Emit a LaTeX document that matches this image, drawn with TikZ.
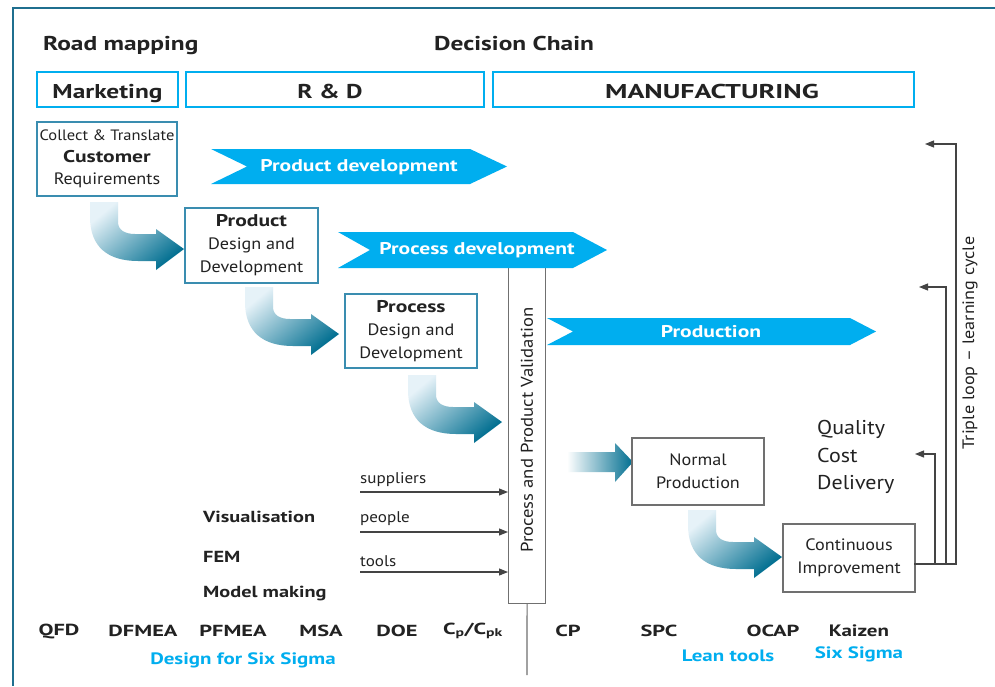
\documentclass[tikz,border=0pt]{standalone}
\usepackage{fontspec}
\setmainfont{PT Sans}[UprightFeatures={FakeStretch=1.1}, BoldFeatures={FakeStretch=1.27}]
\newfontfamily\capsfam{PT Sans}[UprightFeatures={FakeStretch=1.4}, BoldFeatures={FakeStretch=1.4}]
\usetikzlibrary{arrows.meta}
\definecolor{cyanb}{HTML}{00AEEF}
\definecolor{framec}{HTML}{1F6F8F}
\definecolor{arrdark}{HTML}{006E90}
\definecolor{arrlight}{HTML}{E6F2F8}
\definecolor{boxb}{HTML}{3A8DB0}
\definecolor{txt}{HTML}{222222}
\definecolor{graybd}{HTML}{707070}
\definecolor{lingray}{HTML}{444444}
\newcommand\fsz[2]{\fontsize{#1}{#2}\selectfont}
\tikzset{
 lbl/.style={inner sep=0pt, text=txt},
 hdrbox/.style={draw=cyanb, line width=2.2pt, minimum height=35pt, inner sep=0pt, text height=18pt, text depth=0pt, text=txt, font=\fsz{20}{24}\bfseries},
 bluebox/.style={draw=boxb, line width=1.3pt, fill=white, inner sep=0pt, align=center, text=txt},
 graybox/.style={draw=graybd, line width=1.2pt, fill=white, inner sep=0pt, align=center, text=txt},
 chevtxt/.style={text=white, font=\fsz{17}{20}\bfseries, inner sep=0pt},
 chev/.style={fill=cyanb},
 fbline/.style={draw=lingray, line width=1.1pt, -{Triangle[length=9pt,width=7pt]}},
 inarrow/.style={draw=lingray, line width=1.1pt, -{Triangle[length=9pt,width=7pt]}},
 tool/.style={lbl, font=\fsz{16}{18}\bfseries},
 captool/.style={lbl, font=\fsz{16}{18}\capsfam\bfseries},
 cyantool/.style={lbl, text=cyanb, font=\fsz{16.5}{18}\bfseries},
 carrow/.pic={
  \shade[top color=arrlight, bottom color=arrdark, shading angle=40]
   (0,0) -- (28,0) -- (28,20) .. controls (28,28) and (35,32) .. (45,32)
   -- (66,32) -- (66,27) -- (94,47) -- (66,68) -- (66,59) -- (48,59)
   .. controls (18,59) and (0,45) .. (0,15) -- cycle;
 }
}
\begin{document}
\begin{tikzpicture}[x=1pt,y=-1pt]
\useasboundingbox (0,0) rectangle (995,686);
\fill[white] (0,0) rectangle (995,686);
% frame
\draw[framec, line width=2pt] (995,8) -- (13,8) -- (13,686);

% titles
\node[lbl, anchor=base west, font=\fsz{20}{24}\bfseries] (road) at (43,50) {Road mapping};
\node[lbl, anchor=base west, font=\fsz{20}{24}\bfseries] (chain) at (434,50) {Decision Chain};

% header boxes
\node[hdrbox, minimum width=141pt] (mkt) at (107.5,89.5) {Marketing};
\node[hdrbox, minimum width=298pt] (rd) at (335,89.5) {R \& D\hspace*{10pt}};
\node[hdrbox, minimum width=421pt, font=\fsz{20}{24}\capsfam\bfseries] (mfg) at (703.5,89.5) {\hspace*{17pt}MANUFACTURING};

% step boxes
\node[bluebox, minimum width=140pt, minimum height=74pt, font=\fsz{15}{22}] (cust) at (107,159)
 {Collect \& Translate\\{\fsz{17}{22}\bfseries Customer}\\{\fsz{16.5}{22}Requirements}};
\node[bluebox, minimum width=133pt, minimum height=75pt, font=\fsz{16.5}{23}] (prod) at (251.5,245.5)
 {{\fsz{17}{23}\bfseries Product}\\Design and\\Development};
\node[bluebox, minimum width=132pt, minimum height=74pt, font=\fsz{16.5}{23}] (proc) at (411,331)
 {{\fsz{17}{23}\bfseries Process}\\Design and\\Development};

% validation box
\node[draw=graybd, line width=1.1pt, fill=white, minimum width=37pt, minimum height=345pt, inner sep=0pt, anchor=north west] (val) at (508,258) {};
\node[lbl, rotate=90, font=\fsz{17}{20}] (valtxt) at (527,430) {Process and Product Validation};
\coordinate (valend) at (527,675);
\draw[graybd, line width=1.1pt] (val.south) -- (valend);

% chevrons
\fill[chev] (211,149) -- (470,149) -- (507,166.5) -- (470,184) -- (211,184) -- (247,166.5) -- cycle;
\node[chevtxt] (pdev) at (359,167) {Product development};
\fill[chev] (338,232) -- (573,232) -- (607,250) -- (573,268) -- (338,268) -- (370,250) -- cycle;
\node[chevtxt] (prdev) at (477,250) {Process development};
\fill[chev] (547,318) -- (850,318) -- (876,331.5) -- (850,345) -- (547,345) -- (573,331.5) -- cycle;
\node[chevtxt] (prodn) at (711,331.5) {Production};

% curved gradient arrows
\pic at (90,202) {carrow};
\pic at (245,287) {carrow};
\pic at (408,375) {carrow};
\pic at (688,510) {carrow};
% straight gradient arrow
\shade[left color=white, right color=arrdark] (567,452) -- (615,452) -- (615,443) -- (633,462) -- (615,482) -- (615,472) -- (567,472) -- cycle;

% manufacturing boxes
\node[graybox, minimum width=132pt, minimum height=67pt, font=\fsz{16.5}{23}] (norm) at (698,471.5) {Normal\\Production};
\node[graybox, minimum width=132pt, minimum height=68pt, font=\fsz{16.5}{23}] (ci) at (849,558) {Continuous\\Improvement};

\node[lbl, anchor=west, align=left, font=\fsz{20}{27.5}] (qcd) at (817,457) {Quality\\Cost\\Delivery};

% feedback loops
\coordinate (fb) at (914,564);
\coordinate (t1) at (915,454);
\coordinate (t2) at (919,287);
\coordinate (t3) at (925,144);
\draw[fbline] (fb) -- (935,564) -- (935,454) -- (t1);
\draw[fbline] (fb) -- (946,564) -- (946,287) -- (t2);
\draw[fbline] (fb) -- (956,564) -- (956,144) -- (t3);
\node[lbl, rotate=90, font=\fsz{16.5}{20}] (loop) at (970,343) {Triple loop – learning cycle};

% inputs
\node[lbl, anchor=west, font=\fsz{15.5}{18}] (sup) at (360,480) {suppliers};
\node[lbl, anchor=west, font=\fsz{15.5}{18}] (peo) at (360,519) {people};
\node[lbl, anchor=west, font=\fsz{15.5}{18}] (too) at (360,561) {tools};
\coordinate (a1) at (360,492);
\coordinate (a2) at (360,532);
\coordinate (a3) at (360,572);
\draw[inarrow] (a1) -- (a1 -| val.west);
\draw[inarrow] (a2) -- (a2 -| val.west);
\draw[inarrow] (a3) -- (a3 -| val.west);

\node[tool, anchor=west] (vis) at (203,517) {Visualisation};
\node[tool, anchor=west] (fem) at (203,557) {FEM};
\node[tool, anchor=west] (mm) at (203,593) {Model making};

% bottom tools
\node[captool] (qfd) at (59,631) {QFD};
\node[captool] (dfm) at (143,631) {DFMEA};
\node[captool] (pfm) at (233,631) {PFMEA};
\node[captool] (msa) at (321,631) {MSA};
\node[captool] (doe) at (397,631) {DOE};
\node[captool] (cpk) at (473,631) {C\textsubscript{p}/C\textsubscript{pk}};
\node[captool] (cp) at (568,631) {CP};
\node[captool] (spc) at (659,631) {SPC};
\node[captool] (ocap) at (773,631) {OCAP};
\node[tool, font=\fsz{16.5}{18}\bfseries] (kai) at (859,631) {Kaizen};
\node[cyantool] (dfss) at (243,660) {Design for Six Sigma};
\node[cyantool] (lean) at (728,656) {Lean tools};
\node[cyantool] (ss) at (859,654) {Six Sigma};
\end{tikzpicture}
\end{document}
